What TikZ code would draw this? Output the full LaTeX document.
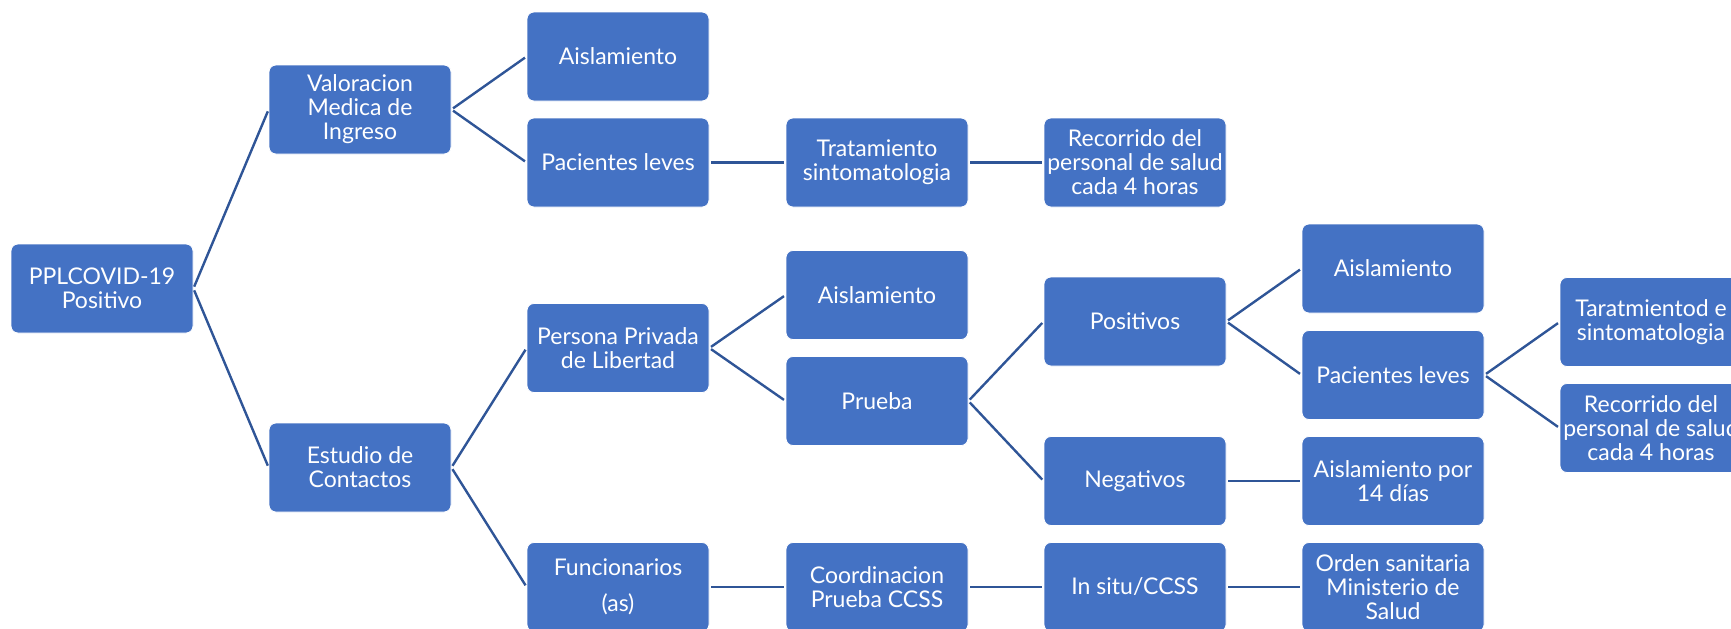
\documentclass[tikz,border=0pt]{standalone}
\usepackage{fontspec}
\setmainfont{Lato}
\definecolor{boxblue}{HTML}{4472C4}
\definecolor{linkblue}{HTML}{2F5597}
\begin{document}
\begin{tikzpicture}[x=0.5pt,y=-0.5pt,
  box/.style={rectangle, rounded corners=3.5pt, fill=boxblue, draw=white, line width=0.4pt,
    minimum width=91pt, minimum height=44.5pt, text=white, align=center,
    font=\fontsize{11.5}{12}\selectfont, inner sep=0pt},
  link/.style={draw=linkblue, line width=1.2pt, shorten <=1pt, shorten >=1pt}]
\useasboundingbox (0,0) rectangle (1731,628);
\clip (0,0) rectangle (1731,628);
% column 1
\node[box] (ppl) at (102,288.5) {PPLCOVID-19\\Positivo};
% column 2
\node[box] (val) at (360,109.5) {Valoracion\\Medica de\\Ingreso};
\node[box] (est) at (360,467.5) {Estudio de\\Contactos};
% column 3
\node[box] (ais1) at (618,56.5) {Aislamiento};
\node[box] (pac1) at (618,162.5) {Pacientes leves};
\node[box] (per) at (618,348) {Persona Privada\\de Libertad};
\node[box] (fun) at (618,587) {Funcionarios\\[6pt](as)};
% column 4
\node[box] (trat1) at (877,162.5) {Tratamiento\\sintomatologia};
\node[box] (ais2) at (877,295) {Aislamiento};
\node[box] (pru) at (877,401) {Prueba};
\node[box] (coord) at (877,587) {Coordinacion\\Prueba CCSS};
% column 5
\node[box] (rec1) at (1135,162.5) {Recorrido del\\personal de salud\\cada 4 horas};
\node[box] (pos) at (1135,321.5) {Positivos};
\node[box] (neg) at (1135,481) {Negativos};
\node[box] (insitu) at (1135,587) {In situ/CCSS};
% column 6
\node[box] (ais3) at (1393,268.5) {Aislamiento};
\node[box] (pac3) at (1393,375) {Pacientes leves};
\node[box] (ais14) at (1393,481) {Aislamiento por\\14 días};
\node[box] (orden) at (1393,587) {Orden sanitaria\\Ministerio de\\Salud};
% column 7
\node[box] (trat3) at (1651,322) {Taratmientod e\\sintomatologia};
\node[box] (rec3) at (1651,428) {Recorrido del\\personal de salud\\cada 4 horas};
% connectors
\draw[link] (ppl.east) -- (val.west);
\draw[link] (ppl.east) -- (est.west);
\draw[link] (val.east) -- (ais1.west);
\draw[link] (val.east) -- (pac1.west);
\draw[link] (pac1.east) -- (trat1.west);
\draw[link] (trat1.east) -- (rec1.west);
\draw[link] (est.east) -- (per.west);
\draw[link] (est.east) -- (fun.west);
\draw[link] (per.east) -- (ais2.west);
\draw[link] (per.east) -- (pru.west);
\draw[link] (pru.east) -- (pos.west);
\draw[link] (pru.east) -- (neg.west);
\draw[link] (pos.east) -- (ais3.west);
\draw[link] (pos.east) -- (pac3.west);
\draw[link] (pac3.east) -- (trat3.west);
\draw[link] (pac3.east) -- (rec3.west);
\draw[link] (neg.east) -- (ais14.west);
\draw[link] (fun.east) -- (coord.west);
\draw[link] (coord.east) -- (insitu.west);
\draw[link] (insitu.east) -- (orden.west);
\end{tikzpicture}
\end{document}
